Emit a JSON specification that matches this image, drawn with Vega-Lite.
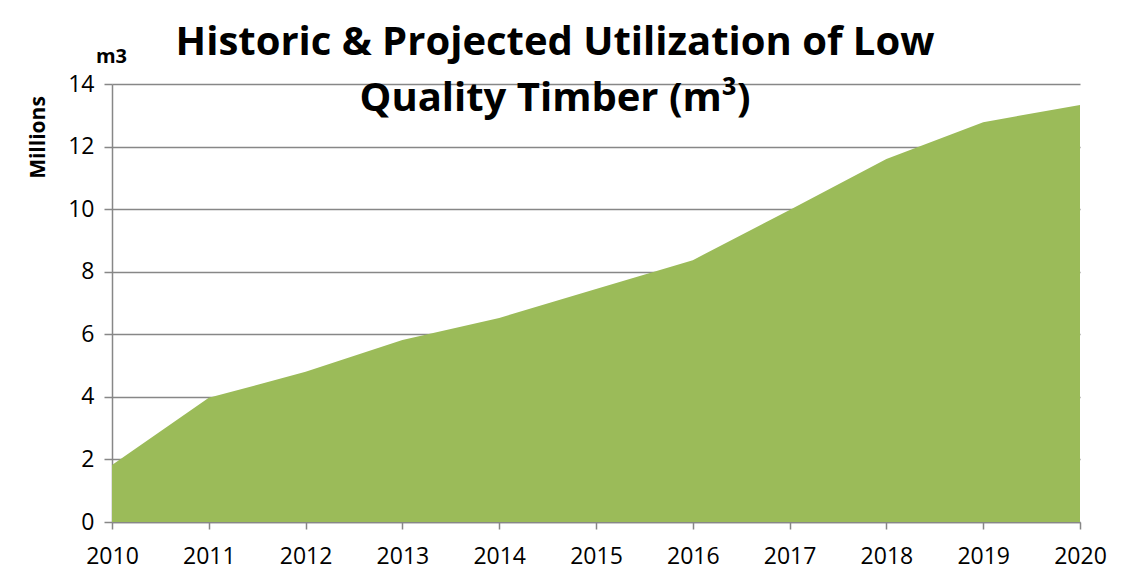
{
  "$schema": "https://vega.github.io/schema/vega-lite/v6.json",
  "width": 968,
  "height": 438,
  "autosize": {"type": "none"},
  "padding": {"left": 112, "top": 84, "right": 46, "bottom": 47},
  "background": "white",
  "title": {
    "text": ["Historic & Projected Utilization of Low", "Quality Timber (m³)"],
    "font": "Open Sans",
    "fontSize": 40,
    "fontWeight": "bold",
    "color": "black",
    "lineHeight": 56,
    "anchor": "middle",
    "frame": "group",
    "baseline": "alphabetic",
    "offset": 0,
    "dx": -41,
    "dy": 105
  },
  "data": {
    "values": [
      {"year": 2010, "value": 1.82},
      {"year": 2011, "value": 3.97},
      {"year": 2012, "value": 4.8},
      {"year": 2013, "value": 5.82},
      {"year": 2014, "value": 6.52},
      {"year": 2015, "value": 7.45},
      {"year": 2016, "value": 8.37},
      {"year": 2017, "value": 9.97},
      {"year": 2018, "value": 11.6},
      {"year": 2019, "value": 12.78},
      {"year": 2020, "value": 13.33}
    ]
  },
  "mark": {"type": "area", "color": "#9BBB59", "opacity": 1},
  "encoding": {
    "x": {
      "field": "year",
      "type": "quantitative",
      "scale": {"domain": [2010, 2020], "nice": false, "zero": false},
      "axis": {
        "title": "m3",
        "titleFont": "Open Sans",
        "titleFontSize": 20,
        "titleFontWeight": "bold",
        "titleColor": "black",
        "titleX": -1,
        "titleY": -460,
        "titleAlign": "center",
        "titleBaseline": "alphabetic",
        "values": [2010, 2011, 2012, 2013, 2014, 2015, 2016, 2017, 2018, 2019, 2020],
        "format": "d",
        "labelFont": "Open Sans",
        "labelFontSize": 23,
        "labelColor": "black",
        "labelPadding": 16,
        "labelFlush": false,
        "labelOverlap": false,
        "tickSize": 7,
        "tickColor": "#878787",
        "tickWidth": 1.5,
        "domainColor": "#878787",
        "domainWidth": 1.5,
        "grid": false
      }
    },
    "y": {
      "field": "value",
      "type": "quantitative",
      "scale": {"domain": [0, 14], "nice": false},
      "axis": {
        "title": "Millions",
        "titleFont": "Open Sans",
        "titleFontSize": 21,
        "titleFontWeight": "bold",
        "titleColor": "black",
        "titleAngle": -90,
        "titleX": -74,
        "titleY": 53,
        "titleAlign": "center",
        "titleBaseline": "middle",
        "values": [0, 2, 4, 6, 8, 10, 12, 14],
        "labelFont": "Open Sans",
        "labelFontSize": 23,
        "labelColor": "black",
        "labelPadding": 10,
        "labelFlush": false,
        "tickSize": 8,
        "tickColor": "#878787",
        "tickWidth": 1.5,
        "domainColor": "#878787",
        "domainWidth": 1.5,
        "grid": true,
        "gridColor": "#878787",
        "gridWidth": 1.5
      }
    }
  },
  "config": {"view": {"stroke": null}}
}
